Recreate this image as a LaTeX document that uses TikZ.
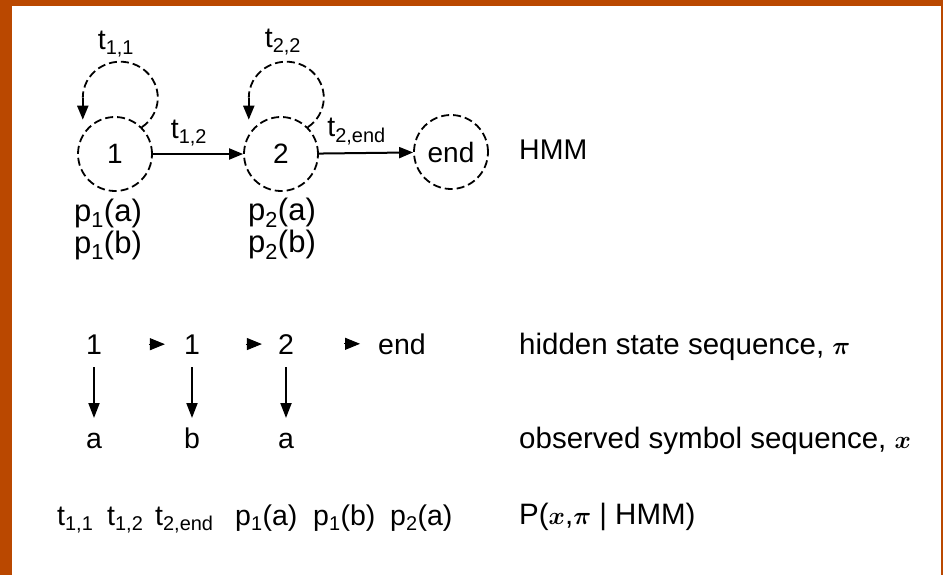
\documentclass[tikz,border=0pt]{standalone}
\usepackage{fontspec}
\setmainfont{Liberation Sans}
\usepackage{bm}
\usetikzlibrary{arrows.meta,calc}
\newcommand\ssub[1]{\textsubscript{#1}}
\definecolor{framecol}{RGB}{186,72,0}
\begin{document}
\begin{tikzpicture}[x=1pt,y=1pt,
  txt/.style={font=\fontsize{28.5}{31}\selectfont, inner sep=2pt},
  big/.style={font=\fontsize{31}{32}\selectfont, inner sep=2pt},
  lab/.style={font=\fontsize{29.5}{32}\selectfont, inner sep=2pt, anchor=west},
  state/.style={circle, draw, line width=1.8pt, dash pattern=on 8pt off 4pt,
    minimum size=74pt, inner sep=0pt, font=\fontsize{28}{30}\selectfont},
  arr/.style={line width=2pt, -{Triangle[length=14pt,width=11pt]}},
  dashline/.style={line width=1.8pt, dash pattern=on 8pt off 4pt},
  tiponly/.style={line width=1pt, -{Triangle[length=15pt,width=12pt]}},
  dnarr/.style={line width=2pt, -{Triangle[length=15pt,width=11pt]}}]
\useasboundingbox (0,0) rectangle (943,-575);
\fill[framecol] (0,0) rectangle (943,-575);
\fill[white] (12,-6) rectangle (941,-575);

% HMM states
\node[state] (n1) at (115,-154) {1};
\node[state] (n2) at (281,-154) {2};
\node[state] (ne) at (451,-152) {end};
\node[txt, anchor=west] (hmm) at (517,-150) {HMM};

% self loops
\draw[dashline] (n1.45) arc[start angle=-55,end angle=180,x radius=37.5,y radius=36] coordinate (a1);
\draw[arr] (a1) -- ++(0,-22);
\draw[dashline] (n2.45) arc[start angle=-55,end angle=180,x radius=37.5,y radius=36] coordinate (a2);
\draw[arr] (a2) -- ++(0,-22);
\node[txt] (t11) at (116,-44) {t\ssub{1,1}};
\node[txt] (t22) at (283,-42) {t\ssub{2,2}};

% transitions
\draw[arr] (n1) -- node[txt, above=5pt, pos=0.4] {t\ssub{1,2}} (n2);
\draw[arr] (n2) -- node[txt, above=5pt, pos=0.4] {t\ssub{2,end}} (ne);

% emission labels
\node[big, align=center] (e1) at (108,-229) {p\ssub{1}(a)\\p\ssub{1}(b)};
\node[big, align=center] (e2) at (282,-229) {p\ssub{2}(a)\\p\ssub{2}(b)};

% hidden sequence
\node[txt, anchor=base] (h1) at (94,-354) {1};
\node[txt, anchor=base] (h2) at (192,-354) {1};
\node[txt, anchor=base] (h3) at (286,-354) {2};
\node[txt, anchor=base] (h4) at (402,-354) {end};
\draw[tiponly] ([xshift=-33pt]h2.west) -- ([xshift=-17pt]h2.west);
\draw[tiponly] ([xshift=-30pt]h3.west) -- ([xshift=-14pt]h3.west);
\draw[tiponly] ([xshift=-32pt]h4.west) -- ([xshift=-16pt]h4.west);

% observed sequence
\node[txt, anchor=base] (o1) at (94,-448) {a};
\node[txt, anchor=base] (o2) at (192,-448) {b};
\node[txt, anchor=base] (o3) at (286,-448) {a};
\draw[dnarr] (h1.south |- 0,-367) -- (o1.north |- 0,-418);
\draw[dnarr] (h2.south |- 0,-367) -- (o2.north |- 0,-418);
\draw[dnarr] (h3.south |- 0,-367) -- (o3.north |- 0,-418);

% product terms
\node[txt, anchor=base west] (q1) at (55,-525) {t\ssub{1,1}};
\node[txt, anchor=base west] (q2) at (105,-525) {t\ssub{1,2}};
\node[txt, anchor=base west] (q3) at (153,-525) {t\ssub{2,end}};
\node[txt, anchor=base west] (q4) at (233,-525) {p\ssub{1}(a)};
\node[txt, anchor=base west] (q5) at (311,-525) {p\ssub{1}(b)};
\node[txt, anchor=base west] (q6) at (388,-525) {p\ssub{2}(a)};

% right labels
\node[lab] (lh) at (517,-347) {hidden state sequence, $\bm{\pi}$};
\node[lab] (lo) at (517,-441) {observed symbol sequence, $\bm{x}$};
\node[lab] (lp) at (517,-517) {P($\bm{x}$,$\bm{\pi}$ | HMM)};
\end{tikzpicture}
\end{document}
